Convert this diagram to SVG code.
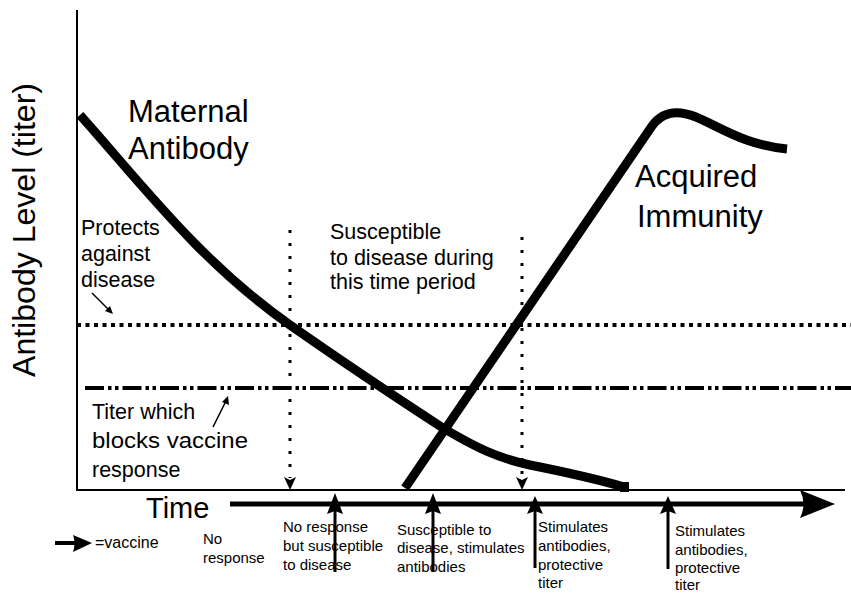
<svg xmlns="http://www.w3.org/2000/svg" width="851" height="595" viewBox="0 0 851 595">
<style>
text{font-family:"Liberation Sans",Arial,sans-serif;fill:#000}
.big{font-size:31px}
.mid{font-size:21.5px}
.sm{font-size:15px}
.curve{fill:none;stroke:#000;stroke-width:9}
.axis{fill:none;stroke:#000;stroke-width:2}
.dot{fill:none;stroke:#000;stroke-width:4;stroke-dasharray:4 4.5}
.dashdot{fill:none;stroke:#000;stroke-width:4;stroke-dasharray:19 4 3.5 3.5 3.5 4}
.vdot{fill:none;stroke:#000;stroke-width:3;stroke-dasharray:3 10}
.shaft{fill:none;stroke:#000;stroke-width:3}
.thin{fill:none;stroke:#000;stroke-width:1.5}
</style>
<rect width="851" height="595" fill="#fff"/>

<g id="axes">
  <line class="axis" x1="77" y1="10" x2="77" y2="491"/>
  <line class="axis" x1="76" y1="490" x2="845" y2="490"/>
</g>

<g id="reference-lines">
  <line class="dot" x1="77" y1="325" x2="851" y2="325"/>
  <line class="dashdot" x1="85" y1="388" x2="851" y2="388"/>
</g>

<g id="maternal-curve">
  <path class="curve" d="M80,115 C140,182 200,262 290,325 C340,360 400,400 443,428 C475,447 497,458 530,465 C565,472 600,480 624,487"/>
  <rect x="620" y="482" width="9" height="10" fill="#000"/>
</g>

<g id="acquired-curve">
  <path class="curve" d="M405,488 L652,126 C662,112 676,109 696,117 C722,128 745,145 787,149"/>
</g>

<g id="connectors">
  <!-- vertical dotted markers -->
  <line class="vdot" x1="290" y1="230" x2="290" y2="478"/>
  <path d="M284,477 L290,490 L296,477 L290,480 Z" fill="#000"/>
  <line class="vdot" x1="522" y1="237" x2="522" y2="478"/>
  <path d="M516,477 L522,490 L528,477 L522,480 Z" fill="#000"/>
  <!-- time axis arrow -->
  <line x1="230" y1="504" x2="806" y2="504" stroke="#000" stroke-width="5"/>
  <path d="M800,490 L835,504 L800,518 Q807,504 800,490 Z" fill="#000"/>
  <!-- vaccine arrows -->
  <line class="shaft" x1="335" y1="572" x2="335" y2="505"/>
  <path d="M327,514 L335,493 L343,514 L335,511 Z" fill="#000"/>
  <line class="shaft" x1="433" y1="572" x2="433" y2="505"/>
  <path d="M425,514 L433,493 L441,514 L433,511 Z" fill="#000"/>
  <line class="shaft" x1="535" y1="568" x2="535" y2="508"/>
  <path d="M527,514 L535,496 L543,514 L535,511 Z" fill="#000"/>
  <line class="shaft" x1="668" y1="569" x2="668" y2="508"/>
  <path d="M660,514 L668,496 L676,514 L668,511 Z" fill="#000"/>
  <!-- legend arrow -->
  <line x1="55" y1="543" x2="78" y2="543" stroke="#000" stroke-width="4"/>
  <path d="M73,535 L92,543 L73,552 Q76,543 73,535 Z" fill="#000"/>
  <!-- small pointer arrows -->
  <line class="thin" x1="92" y1="293" x2="110" y2="311"/>
  <path d="M105,311 L113,314 L110,306 Z" fill="#000"/>
  <line class="thin" x1="213" y1="427" x2="226" y2="401"/>
  <path d="M222,402 L228,396 L229,405 Z" fill="#000"/>
</g>

<g id="label-y-axis">
  <text class="big" transform="translate(35,377) rotate(-90)" textLength="294" lengthAdjust="spacingAndGlyphs">Antibody Level (titer)</text>
</g>
<g id="label-time">
  <text x="146" y="518" style="font-size:29px">Time</text>
</g>
<g id="label-maternal">
  <text class="big" x="128" y="122">Maternal</text>
  <text class="big" x="128" y="159">Antibody</text>
</g>
<g id="label-acquired">
  <text class="big" x="635" y="187">Acquired</text>
  <text class="big" x="637" y="227">Immunity</text>
</g>
<g id="label-protects">
  <text class="mid" x="81" y="235">Protects</text>
  <text class="mid" x="81" y="261">against</text>
  <text class="mid" x="81" y="287">disease</text>
</g>
<g id="label-susceptible">
  <text class="mid" x="330" y="239">Susceptible</text>
  <text class="mid" x="330" y="265">to disease during</text>
  <text class="mid" x="330" y="289">this time period</text>
</g>
<g id="label-titer">
  <text class="mid" x="92" y="419">Titer which</text>
  <text class="mid" x="92" y="448" textLength="156" lengthAdjust="spacingAndGlyphs">blocks vaccine</text>
  <text class="mid" x="92" y="477">response</text>
</g>
<g id="label-legend">
  <text class="sm" x="95" y="548" style="font-size:16px">=vaccine</text>
</g>
<g id="label-no-response">
  <text class="sm" x="203" y="544">No</text>
  <text class="sm" x="203" y="563">response</text>
</g>
<g id="label-no-response-susceptible">
  <text class="sm" x="283" y="532">No response</text>
  <text class="sm" x="283" y="551">but susceptible</text>
  <text class="sm" x="283" y="570">to disease</text>
</g>
<g id="label-susceptible-stimulates">
  <text class="sm" x="397" y="535">Susceptible to</text>
  <text class="sm" x="397" y="553">disease, stimulates</text>
  <text class="sm" x="397" y="572">antibodies</text>
</g>
<g id="label-stimulates-1">
  <text class="sm" x="538" y="532">Stimulates</text>
  <text class="sm" x="538" y="551">antibodies,</text>
  <text class="sm" x="538" y="570">protective</text>
  <text class="sm" x="538" y="588">titer</text>
</g>
<g id="label-stimulates-2">
  <text class="sm" x="675" y="536">Stimulates</text>
  <text class="sm" x="675" y="555">antibodies,</text>
  <text class="sm" x="675" y="573">protective</text>
  <text class="sm" x="675" y="590">titer</text>
</g>
</svg>
